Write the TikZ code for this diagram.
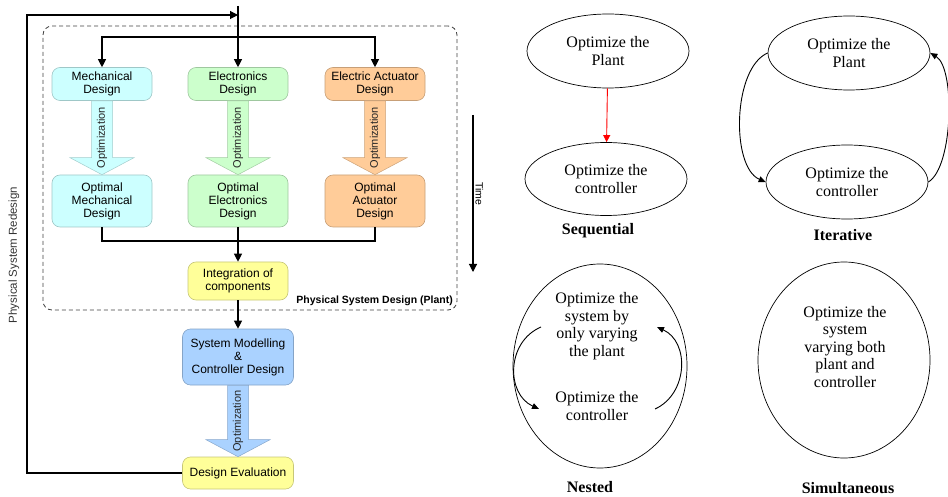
\documentclass[tikz,border=0pt]{standalone}
\usepackage{fontspec}
\setmainfont{Liberation Serif}
\setsansfont{Liberation Sans}
\usepackage{tikz}
\usetikzlibrary{arrows.meta,shapes.geometric,calc,positioning}

\definecolor{mechfill}{RGB}{204,255,255}
\definecolor{elecfill}{RGB}{204,255,204}
\definecolor{actfill}{RGB}{255,204,153}
\definecolor{intfill}{RGB}{255,255,153}
\definecolor{modfill}{RGB}{170,210,255}

% wide optimisation arrow between two boxes
\newcommand{\optarrow}[3]{%
  \fill[#3, draw=#3!80!black, line width=0.5pt]
    ($(#1.south)+(-10.5,0)$) -- ($(#2.north)+(-10.5,-17)$) -- ($(#2.north)+(-32,-17)$)
    -- (#2.north) -- ($(#2.north)+(32,-17)$) -- ($(#2.north)+(10.5,-17)$)
    -- ($(#1.south)+(10.5,0)$) -- cycle;
  \path (#1.south) -- node[rotate=90, text=black!85, font=\sffamily\fontsize{11}{12}\selectfont] {Optimization} (#2.north);
}

\begin{document}
\begin{tikzpicture}[x=1pt, y=-1pt,
    block/.style={draw=#1!78!black, fill=#1, line width=0.6pt, rounded corners=8pt, align=center,
      font=\sffamily\fontsize{12}{13}\selectfont, minimum width=100pt, inner sep=1pt},
    flow/.style={line width=1.1pt, -{Triangle[length=8pt,width=8pt]}},
    oval/.style={ellipse, draw, line width=0.7pt, align=center, inner sep=0pt,
      font=\fontsize{16}{17.5}\selectfont},
    ovaltext/.style={align=center, inner sep=0pt, font=\fontsize{16}{17.5}\selectfont},
    loopline/.style={line width=0.9pt, -{Triangle[length=7pt,width=6pt]}},
    caption/.style={font=\bfseries\fontsize{16}{18}\selectfont}]
    \useasboundingbox (0,0) rectangle (948,497);

    %frame of the plant design
    \node[draw=black!75, dash pattern=on 4pt off 3pt, line width=0.8pt, rounded corners=9pt,
      minimum width=414pt, minimum height=284pt] (plant) at (250,168) {};
    \node[font=\sffamily\bfseries\fontsize{10.5}{12}\selectfont, anchor=east, inner sep=0pt] (plantlbl) at (453,301) {Physical System Design (Plant)};

    %boxes
    \node[block=mechfill, minimum height=33pt] (mech) at (102,84) {Mechanical\\Design};
    \node[block=elecfill, minimum height=33pt] (elec) at (238,84) {Electronics\\Design};
    \node[block=actfill, minimum height=33pt] (act) at (375,84) {Electric Actuator\\Design};
    \node[block=mechfill, minimum height=52pt] (optmech) at (102,201) {Optimal\\Mechanical\\Design};
    \node[block=elecfill, minimum height=52pt] (optelec) at (238,201) {Optimal\\Electronics\\Design};
    \node[block=actfill, minimum height=52pt] (optact) at (375,201) {Optimal\\Actuator\\Design};
    \node[block=intfill, minimum height=38pt] (integ) at (238,281) {Integration of\\components};
    \node[block=modfill, minimum width=111pt, minimum height=56pt] (model) at (238,357) {System Modelling\\\&\\Controller Design};
    \node[block=intfill, minimum width=111pt, minimum height=32pt] (eval) at (238,473) {Design Evaluation};

    %optimisation arrows
    \optarrow{mech}{optmech}{mechfill}
    \optarrow{elec}{optelec}{elecfill}
    \optarrow{act}{optact}{actfill}
    \optarrow{model}{eval}{modfill}

    %connectors
    \coordinate (entry) at (238,6);
    \coordinate (join) at (238,15);
    \coordinate (corner) at (27,15);
    \coordinate (split) at (238,37);
    \coordinate (merge) at (238,241);
    \draw[flow] (entry) -- (elec);
    \draw[flow] (split) -| (mech);
    \draw[flow] (split) -| (act);
    \draw[line width=1.1pt] (optmech) |- (merge) -| (optact);
    \draw[line width=1.1pt] (optelec) -- (merge);
    \draw[flow] (merge) -- (integ);
    \draw[flow] (integ) -- (model);
    \draw[flow] (eval) -| (corner) -- (join);
    \node[rotate=90, font=\sffamily\fontsize{11.5}{13}\selectfont, text=black!80] (redesign) at (14,255) {Physical System Redesign};

    %time axis
    \coordinate (t0) at (473,115);
    \coordinate (t1) at (473,272);
    \draw[flow] (t0) -- node[rotate=-90, anchor=south, inner sep=2pt, font=\sffamily\fontsize{10.5}{12}\selectfont] (timelbl) {Time} (t1);

    %sequential
    \node[oval, minimum width=162pt, minimum height=74pt] (seqplant) at (608,51) {Optimize the\\Plant};
    \node[oval, minimum width=162pt, minimum height=73pt] (seqctrl) at (606,179) {Optimize the\\controller};
    \draw[red, line width=0.9pt, -{Triangle[length=7pt,width=7pt]}] (seqplant) -- (seqctrl);
    \node[caption] (seqlbl) at (598,231) {Sequential};

    %iterative
    \node[oval, minimum width=162pt, minimum height=74pt] (itplant) at (849,53) {Optimize the\\Plant};
    \node[oval, minimum width=162pt, minimum height=74pt] (itctrl) at (847,182) {Optimize the\\controller};
    \draw[loopline] (itplant.west) .. controls +(-35,15) and +(-35,-15) .. (itctrl.west);
    \draw[loopline] (itctrl.east) .. controls +(25,-15) and +(25,15) .. (itplant.east);
    \node[caption] (itlbl) at (843,235) {Iterative};

    %nested
    \node[oval, minimum width=174pt, minimum height=204pt] (nestoval) at (600,366) {};
    \node[ovaltext] (nestplant) at (597,326) {Optimize the\\system by\\only varying\\the plant};
    \node[ovaltext] (nestctrl) at (597,406) {Optimize the\\controller};
    \coordinate (nA) at (541,327);
    \coordinate (nB) at (539,409);
    \coordinate (nC) at (655,409);
    \coordinate (nD) at (657,327);
    \draw[loopline] (nA) .. controls +(-35,15) and +(-33,-15) .. (nB);
    \draw[loopline] (nC) .. controls +(33,-15) and +(33,15) .. (nD);
    \node[caption] (nestlbl) at (590,487) {Nested};

    %simultaneous
    \node[oval, minimum width=172pt, minimum height=196pt] (simoval) at (844,360) {};
    \node[ovaltext] (simtext) at (845,347) {Optimize the\\system\\varying both\\plant and\\controller};
    \node[caption] (simlbl) at (848,488) {Simultaneous};
\end{tikzpicture}
\end{document}
